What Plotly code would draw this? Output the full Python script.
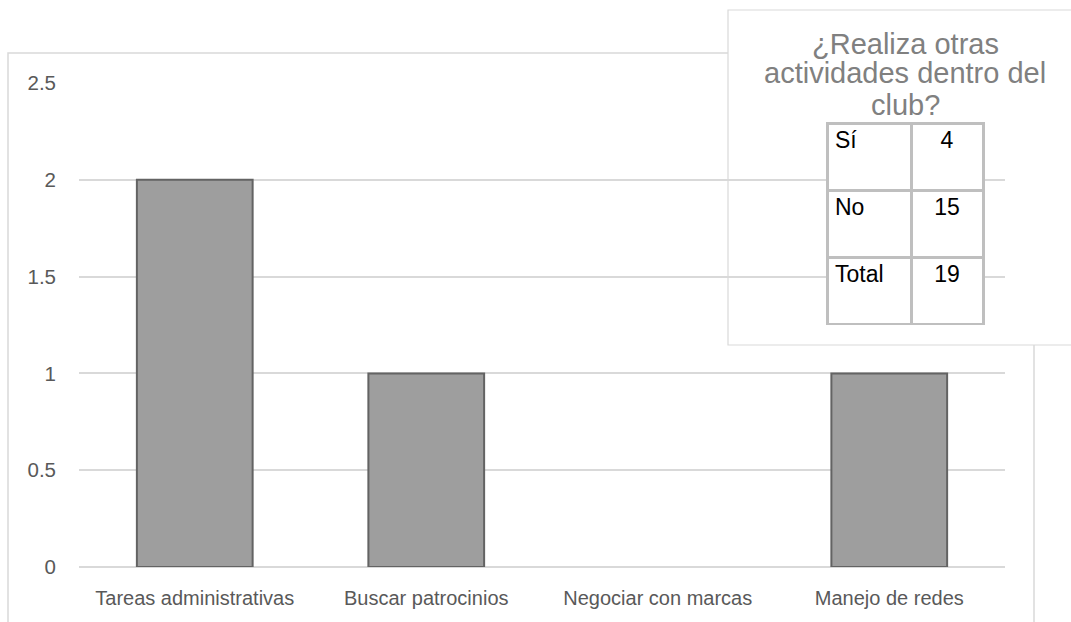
import plotly.graph_objects as go

# Activity counts
categories = ["Tareas administrativas", "Buscar patrocinios", "Negociar con marcas", "Manejo de redes"]
counts = [2, 1, 0, 1]

# Summary table: does the member take part in other club activities?
answer_labels = ["Sí", "No", "Total"]
answer_counts = [4, 15, 19]
title_lines = ["¿Realiza otras", "actividades dentro del", "club?"]

W, H = 1071, 622
L, R, T, B = 79, 66, 83, 55
plot_w = W - L - R
plot_h = H - T - B

def px_x(x):
    return (x - L) / plot_w

def px_y(y):
    return (H - B - y) / plot_h

fig = go.Figure()

fig.add_trace(go.Bar(
    x=categories,
    y=counts,
    marker=dict(
        color="#9e9e9e",
        line=dict(color="#636363", width=[2 if v > 0 else 0 for v in counts]),
    ),
    hoverinfo="x+y",
))

table_font = dict(family="Liberation Sans, Arial", size=23, color="black")
fig.add_trace(go.Table(
    domain=dict(x=[px_x(827), px_x(983)], y=[px_y(325), px_y(123)]),
    columnwidth=[84, 72],
    header=dict(
        values=[answer_labels[0], str(answer_counts[0])],
        height=67,
        align=["left", "center"],
        fill_color="white",
        line=dict(color="#bfbfbf", width=3),
        font=table_font,
    ),
    cells=dict(
        values=[answer_labels[1:], [str(v) for v in answer_counts[1:]]],
        height=67,
        align=["left", "center"],
        fill_color="white",
        line=dict(color="#bfbfbf", width=3),
        font=table_font,
    ),
))

shapes = [
    # outer chart frame
    dict(type="rect", xref="paper", yref="paper",
         x0=px_x(8), x1=px_x(1034), y0=px_y(650), y1=px_y(53),
         line=dict(color="#d9d9d9", width=1.5), fillcolor="rgba(0,0,0,0)", layer="below"),
    # inset panel (above gridlines, below the table)
    dict(type="rect", xref="paper", yref="paper",
         x0=px_x(728), x1=px_x(1090), y0=px_y(345), y1=px_y(10),
         line=dict(color="#d9d9d9", width=1.2), fillcolor="white", layer="between"),
]

annotations = []
for line, ypx in zip(title_lines, [44, 73, 105]):
    annotations.append(dict(
        text=line, xref="paper", yref="paper", x=px_x(905), y=px_y(ypx),
        xanchor="center", yanchor="middle", showarrow=False,
        font=dict(family="Liberation Sans, Arial", size=29, color="#808080"),
    ))

fig.update_layout(
    width=W, height=H,
    margin=dict(l=L, r=R, t=T, b=B, pad=0, autoexpand=False),
    paper_bgcolor="white", plot_bgcolor="white",
    bargap=0.5,
    showlegend=False,
    shapes=shapes,
    annotations=annotations,
    font=dict(family="Liberation Sans, Arial", color="#595959", size=20),
)
fig.update_xaxes(
    showgrid=False, showline=False, ticks="", automargin=False,
    tickfont=dict(size=20, color="#595959"),
    ticklabelstandoff=17,
)
fig.update_yaxes(
    range=[0, 2.5], dtick=0.5, automargin=False,
    showgrid=True, gridcolor="#d9d9d9", gridwidth=1.5,
    zeroline=True, zerolinecolor="#d9d9d9", zerolinewidth=1.5,
    showline=False, ticks="",
    tickfont=dict(size=20.5, color="#595959"),
    ticklabelstandoff=22,
)

fig.write_html("out.html")
